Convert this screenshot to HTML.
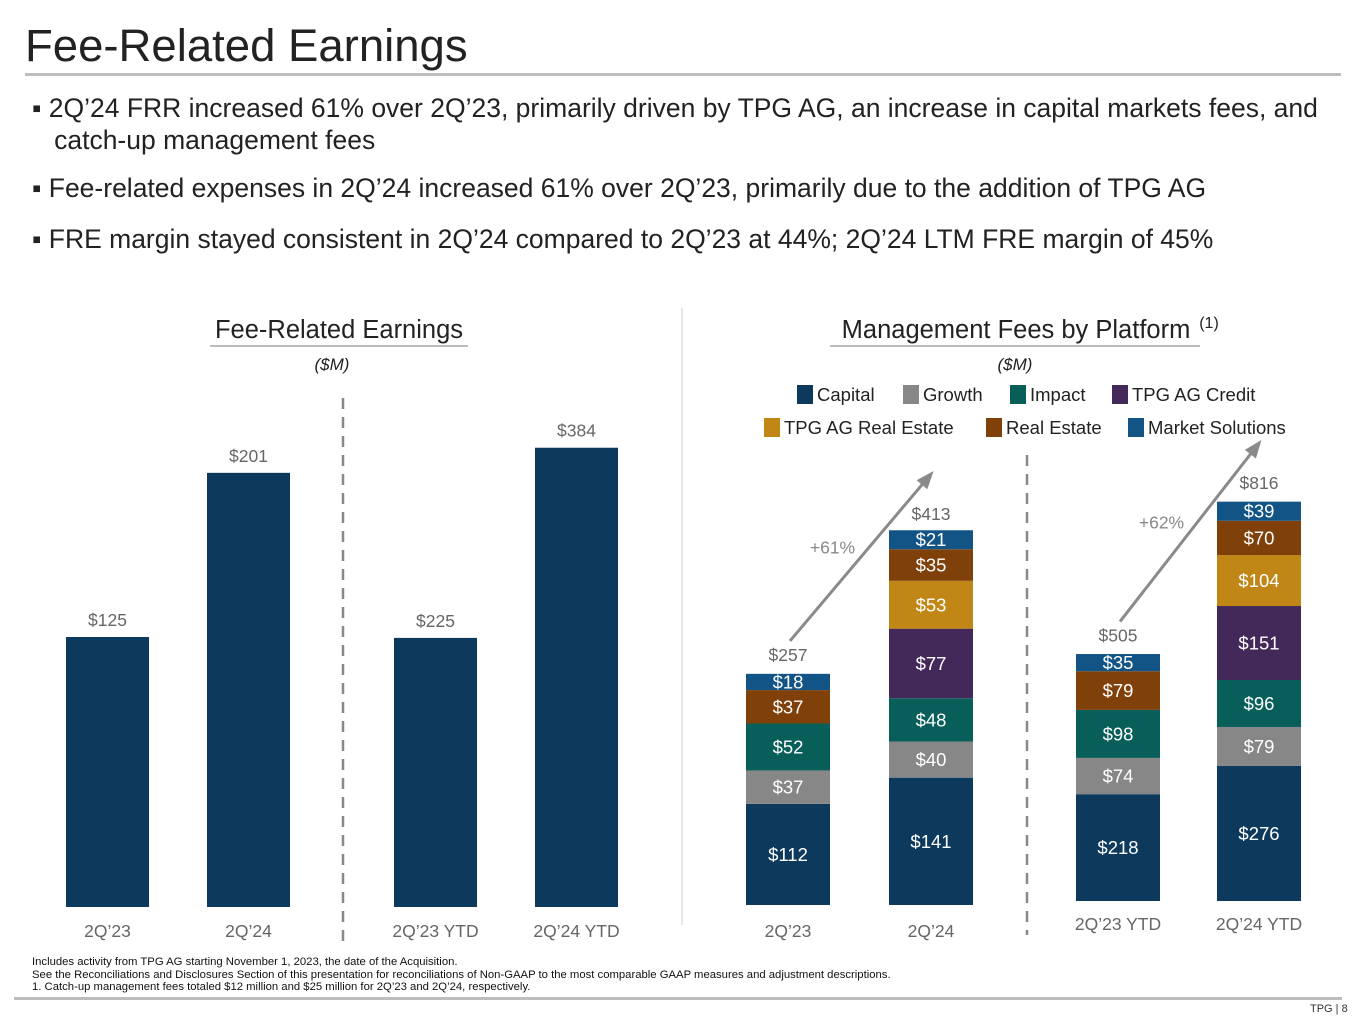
<!DOCTYPE html>
<html><head><meta charset="utf-8">
<style>
body{margin:0;width:1365px;height:1024px;background:#fff;font-family:"Liberation Sans",sans-serif;overflow:hidden;position:relative}
.t{position:absolute;white-space:nowrap}
</style></head><body>
<div class="t" style="left:25px;top:20px;font-size:45.5px;color:#222">Fee-Related Earnings</div>
<div style="position:absolute;left:25px;top:73px;width:1316px;height:3px;background:#bdbdbd"></div>
<div class="t" style="left:32px;top:92px;font-size:26.5px;color:#222;line-height:32px">▪ 2Q’24 FRR increased 61% over 2Q’23, primarily driven by TPG AG, an increase in capital markets fees, and<br>&nbsp;&nbsp;&nbsp;catch-up management fees</div>
<div class="t" style="left:32px;top:173px;font-size:26.5px;color:#222">▪ Fee-related expenses in 2Q’24 increased 61% over 2Q’23, primarily due to the addition of TPG AG</div>
<div class="t" style="left:32px;top:224px;font-size:26.5px;color:#222">▪ FRE margin stayed consistent in 2Q’24 compared to 2Q’23 at 44%; 2Q’24 LTM FRE margin of 45%</div>
<div class="t" style="left:32px;top:956px;font-size:11.3px;color:#111;line-height:12.5px">Includes activity from TPG AG starting November 1, 2023, the date of the Acquisition.<br>See the Reconciliations and Disclosures Section of this presentation for reconciliations of Non-GAAP to the most comparable GAAP measures and adjustment descriptions.<br>1. Catch-up management fees totaled $12 million and $25 million for 2Q’23 and 2Q’24, respectively.</div>
<div style="position:absolute;left:14px;top:997px;width:1328px;height:3px;background:#bdbdbd"></div>
<div class="t" style="left:1310px;top:1003px;font-size:11px;color:#333">TPG | 8</div>
<svg id="c" width="1365" height="1024" style="position:absolute;left:0;top:0"></svg>
<script>
const freCats=["2Q’23","2Q’24","2Q’23 YTD","2Q’24 YTD"];
const freVals=[125,201,225,384];
const mfCats=["2Q’23","2Q’24","2Q’23 YTD","2Q’24 YTD"];
const mfSeries=["Capital","Growth","Impact","TPG AG Credit","TPG AG Real Estate","Real Estate","Market Solutions"];
const mfCapital=[112,141,218,276];
const mfGrowth=[37,40,74,79];
const mfImpact=[52,48,98,96];
const mfCredit=[0,77,0,151];
const mfAgRe=[0,53,0,104];
const mfRe=[37,35,79,70];
const mfMs=[18,21,35,39];
const mfTotals=[257,413,505,816];
const mfGrowthLabels=["+61%","+62%"];
const colors=["#0d3a5c","#878787","#085e59","#43285a","#c08616","#7f400a","#125486"];
const NS="http://www.w3.org/2000/svg",svg=document.getElementById('c');
function el(t,a,txt){const e=document.createElementNS(NS,t);for(const k in a)e.setAttribute(k,a[k]);if(txt!=null)e.textContent=txt;svg.appendChild(e);return e;}
function txt(x,y,s,size,fill,name,extra){const e=el('text',Object.assign({x:x,y:y,'font-size':size,fill:fill,'text-anchor':'middle','font-family':'Liberation Sans, sans-serif'},extra||{}),s);


return e;}
txt(339,338,"Fee-Related Earnings",25.5,"#222","left-chart-title");
let r=el('rect',{x:210,y:345,width:258,height:2,fill:'#bdbdbd'});
txt(332,370,"($M)",17,"#222","left-units",{'font-style':'italic'});
txt(1016,338,"Management Fees by Platform",25.5,"#222","right-chart-title");
txt(1209,328,"(1)",16,"#222","right-title-footnote");
r=el('rect',{x:830,y:345,width:370,height:2,fill:'#bdbdbd'});
txt(1015,370,"($M)",17,"#222","right-units",{'font-style':'italic'});
let d=el('line',{x1:682,y1:308,x2:682,y2:925,stroke:'#ddd','stroke-width':1.5});
d=el('line',{x1:343,y1:398,x2:343,y2:945,stroke:'#888','stroke-width':2.5,'stroke-dasharray':'11,8'});
d=el('line',{x1:1027,y1:455,x2:1027,y2:935,stroke:'#888','stroke-width':2.5,'stroke-dasharray':'11,8'});
const freX=[66,207,394,535],freScale=[2.16,2.16,1.196,1.196],freBase=907;
function yFre(i,v){return freBase-v*freScale[i];}
freVals.forEach((v,i)=>{const y=yFre(i,v);
const b=el('rect',{x:freX[i],y:y,width:83,height:freBase-y,fill:colors[0]});


txt(freX[i]+41.5,y-11,"$"+v,17.5,"#666","fre-value-"+i);
txt(freX[i]+41.5,937,freCats[i],17.5,"#666","fre-x-label-"+i);});
const legX=[797,903,1010,1112,764,986,1128],legY=[385,385,385,385,418,418,418];
[0,1,2,3,4,5,6].forEach(k=>{const s=el('rect',{x:legX[k],y:legY[k],width:16,height:19,fill:colors[k]});


txt(legX[k]+20,legY[k]+16,mfSeries[k],18.5,"#222","legend-entry-"+k,{'text-anchor':'start'});});
const mfData=[mfCapital,mfGrowth,mfImpact,mfCredit,mfAgRe,mfRe,mfMs];
const mfX=[746,889,1076,1217],mfScale=[0.903,0.903,0.49,0.49],mfBase=[905,905,901,901];
function yMf(i,v){return mfBase[i]-v*mfScale[i];}
mfCats.forEach((c,i)=>{let cum=0;
mfData.forEach((ser,k)=>{const v=ser[i];if(!v)return;
const y1=yMf(i,cum),y2=yMf(i,cum+v);cum+=v;
const b=el('rect',{x:mfX[i],y:y2,width:84,height:y1-y2,fill:colors[k]});


txt(mfX[i]+42,(y1+y2)/2+6.5,"$"+v,18.5,"#fff","mf-seg-label-"+i+"-"+k);});
const top=yMf(i,mfTotals[i]);
txt(mfX[i]+42,top-12,"$"+mfTotals[i],17.5,"#666","mf-total-"+i);
txt(mfX[i]+42,i<2?937:930,c,17.5,"#666","mf-x-label-"+i);});
[[0,1],[2,3]].forEach((p,j)=>{const xs=mfX[p[0]]+44,y1=yMf(p[0],mfTotals[p[0]])-32;
const xe=mfX[p[1]]+42,y2=yMf(p[1],mfTotals[p[1]])-58;
const l=el('line',{x1:xs,y1:y1,x2:xe,y2:y2,stroke:'#8a8a8a','stroke-width':3});


const ang=Math.atan2(y2-y1,xe-xs),L=14,W=7;
const bx=xe-L*Math.cos(ang),by=y2-L*Math.sin(ang);
const h=el('polygon',{points:`${xe+4*Math.cos(ang)},${y2+4*Math.sin(ang)} ${bx-W*Math.sin(ang)},${by+W*Math.cos(ang)} ${bx+W*Math.sin(ang)},${by-W*Math.cos(ang)}`,fill:'#8a8a8a'});


txt((xs+xe)/2-28,(y1+y2)/2-4,mfGrowthLabels[j],17.5,"#888","growth-label-"+j);});
</script>
</body></html>
